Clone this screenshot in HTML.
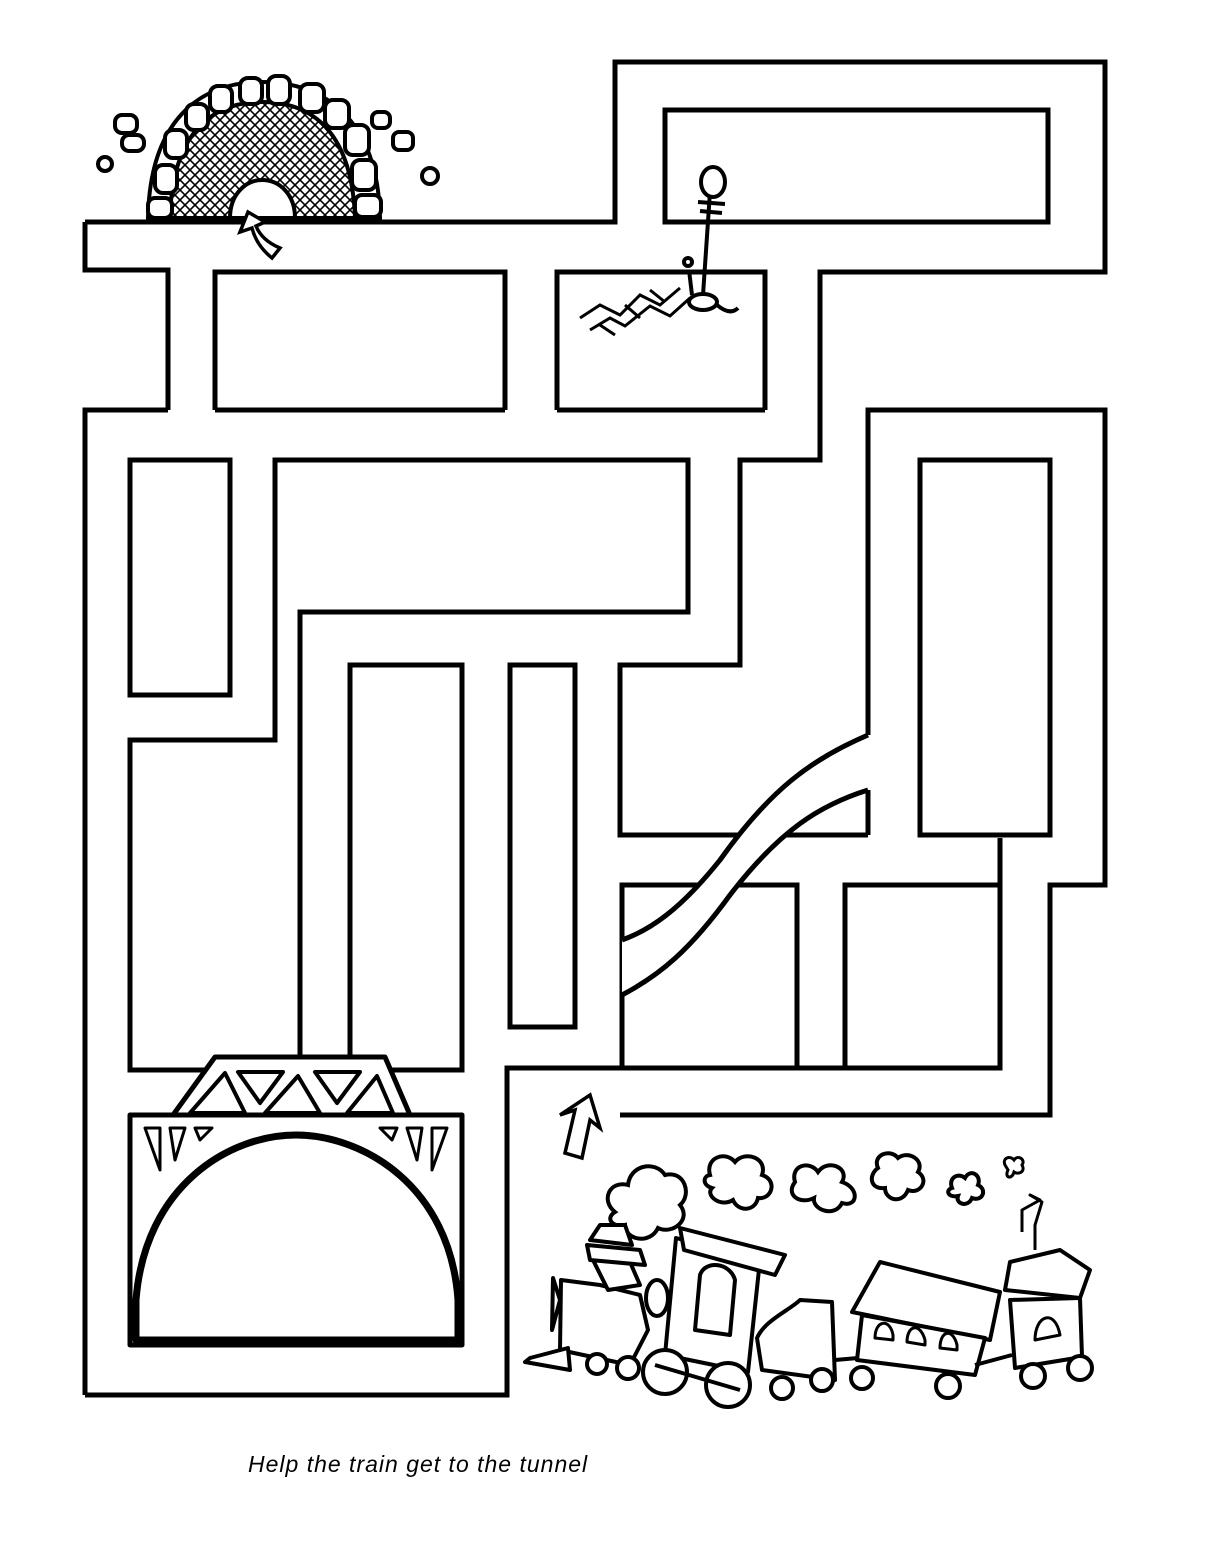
<!DOCTYPE html>
<html><head><meta charset="utf-8"><style>
html,body{margin:0;padding:0;background:#fff}
svg{display:block}
</style></head><body>
<svg width="1216" height="1568" viewBox="0 0 1216 1568" xmlns="http://www.w3.org/2000/svg">
<defs>
<pattern id="hatch" width="10" height="10" patternUnits="userSpaceOnUse">
<path d="M0,0 L10,10 M10,0 L0,10" stroke="#000" stroke-width="1.6"/>
</pattern>
</defs>
<g fill="none" stroke="#000" stroke-width="5" stroke-linejoin="miter">
<polyline points="85,222 615,222 615,62 1105,62 1105,272 820,272 820,460 740,460 740,665 620,665 620,835 868,835"/>
<polyline points="85,222 85,270 168,270 168,410"/>
<rect x="665" y="110" width="383" height="112"/>
<polyline points="215,410 215,272 505,272 505,410"/>
<polyline points="557,410 557,272 765,272 765,410"/>
<polyline points="85,1395 85,410 168,410"/>
<line x1="215" y1="410" x2="505" y2="410"/>
<line x1="557" y1="410" x2="765" y2="410"/>
<rect x="130" y="460" width="100" height="235"/>
<polyline points="205,1070 130,1070 130,740 275,740 275,460 688,460 688,612 300,612 300,1058"/>
<polyline points="350,1058 350,665 462,665 462,1070 392,1070"/>
<rect x="510" y="665" width="65" height="362"/>
<polyline points="85,1395 507,1395 507,1068 1000,1068 1000,838"/>
<polyline points="868,735 868,410 1105,410 1105,885 1050,885 1050,1115 620,1115"/>
<polyline points="868,790 868,835"/>
<rect x="920" y="460" width="130" height="375"/>
<polyline points="622,1068 622,885 797,885 797,1068"/>
<polyline points="845,1068 845,885 1000,885"/>
</g>
<path d="M868,735 C810,760 770,790 720,860 C680,910 650,930 622,940 L622,995 C660,975 690,950 730,895 C780,830 820,805 868,790 Z" fill="#fff" stroke="none"/>
<g fill="none" stroke="#000" stroke-width="5">
<path d="M868,735 C810,760 770,790 720,860 C680,910 650,930 622,940"/>
<path d="M868,790 C820,805 780,830 730,895 C690,950 660,975 622,995"/>
</g>
<g fill="#fff" stroke="#000" stroke-width="5" stroke-linejoin="round">
<polygon points="215,1057 385,1057 410,1115 173,1115"/>
<rect x="130" y="1115" width="332" height="230"/>
<polygon points="190,1113 225,1073 245,1113" stroke-width="4"/>
<polygon points="238,1072 283,1072 260,1103" stroke-width="4"/>
<polygon points="265,1113 298,1076 320,1113" stroke-width="4"/>
<polygon points="315,1072 360,1072 337,1103" stroke-width="4"/>
<polygon points="347,1113 377,1076 393,1113" stroke-width="4"/>
<polygon points="145,1128 160,1128 160,1170" stroke-width="3"/>
<polygon points="170,1128 185,1128 175,1160" stroke-width="3"/>
<polygon points="195,1128 212,1128 200,1140" stroke-width="3"/>
<polygon points="447,1128 432,1128 432,1170" stroke-width="3"/>
<polygon points="422,1128 407,1128 417,1160" stroke-width="3"/>
<polygon points="397,1128 380,1128 392,1140" stroke-width="3"/>
<path d="M136,1300 C145,1185 230,1135 296,1135 C362,1135 450,1185 458,1300 L458,1340 L136,1340 Z" stroke-width="7"/>
</g>
<g stroke="#000" stroke-width="4" fill="#fff">
<path d="M148,218 C150,120 200,82 262,82 C325,82 378,120 380,218 Z"/>
<path d="M170,218 C172,135 210,102 262,102 C315,102 352,135 355,218 Z" fill="url(#hatch)"/>
<path d="M230,218 C230,195 245,180 262,180 C280,180 295,195 295,218 Z"/>
<rect x="240" y="78" width="22" height="26" rx="8"/>
<rect x="268" y="76" width="22" height="28" rx="8"/>
<rect x="210" y="86" width="22" height="26" rx="8"/>
<rect x="186" y="104" width="22" height="26" rx="8"/>
<rect x="165" y="130" width="22" height="28" rx="8"/>
<rect x="155" y="165" width="22" height="28" rx="8"/>
<rect x="148" y="198" width="24" height="20" rx="7"/>
<rect x="300" y="84" width="24" height="28" rx="8"/>
<rect x="325" y="100" width="24" height="28" rx="8"/>
<rect x="345" y="125" width="24" height="30" rx="8"/>
<rect x="352" y="160" width="24" height="30" rx="8"/>
<rect x="355" y="195" width="26" height="22" rx="7"/>
<rect x="115" y="115" width="22" height="18" rx="7"/>
<rect x="122" y="135" width="22" height="16" rx="7"/>
<rect x="372" y="112" width="18" height="16" rx="6"/>
<rect x="393" y="132" width="20" height="18" rx="6"/>
<circle cx="105" cy="164" r="7"/>
<circle cx="430" cy="176" r="8"/>
<path d="M272,258 C262,250 255,240 252,228 L240,232 L248,212 L265,222 L256,226 C260,236 268,243 280,248 Z" stroke-width="3.5"/>
</g>
<g stroke="#000" stroke-width="4" fill="#fff">
<line x1="710" y1="192" x2="703" y2="295"/>
<ellipse cx="713" cy="182" rx="12" ry="15"/>
<path d="M698,202 L725,204 M700,211 L722,213" />
<line x1="689" y1="270" x2="692" y2="295"/>
<circle cx="688" cy="262" r="4"/>
<ellipse cx="703" cy="302" rx="14" ry="8"/>
<path d="M717,305 Q730,316 738,308" fill="none"/>
<path d="M580,318 L600,305 L620,315 L640,295 L660,305 L680,288 M590,330 L610,318 L625,326 L650,306 L670,316 L690,298 M600,325 L615,335 M625,305 L640,318 M650,290 L665,302" fill="none" stroke-width="3"/>
</g>
<path d="M565,1153 L575,1110 L560,1115 L590,1095 L600,1128 L590,1120 L582,1158 Z" fill="#fff" stroke="#000" stroke-width="3.5"/>
<g fill="#fff" stroke="#000" stroke-width="4">
<path d="M615,1212 C600,1200 610,1180 628,1185 C630,1165 655,1160 665,1175 C685,1170 692,1195 680,1205 C692,1220 672,1235 658,1228 C650,1245 625,1240 625,1225 C612,1228 605,1218 615,1212 Z"/>
<path d="M710,1175 C705,1158 725,1150 735,1162 C745,1150 768,1158 762,1175 C778,1180 772,1200 758,1198 C755,1212 738,1212 733,1200 C720,1208 705,1195 712,1188 C702,1185 703,1176 710,1175 Z"/>
<path d="M795,1182 C790,1165 810,1160 818,1172 C828,1158 850,1168 842,1182 C860,1188 858,1208 842,1203 C835,1218 812,1210 814,1198 C800,1205 785,1195 795,1182 Z"/>
<path d="M878,1168 C872,1155 890,1148 898,1158 C908,1150 925,1160 918,1172 C930,1180 920,1195 908,1190 C902,1205 885,1200 885,1188 C870,1190 868,1175 878,1168 Z"/>
<path d="M952,1188 C948,1178 958,1172 965,1178 C970,1168 982,1175 978,1185 C988,1190 982,1202 972,1198 C968,1208 955,1204 958,1196 C948,1198 945,1190 952,1188 Z"/>
<path d="M1005,1165 C1002,1158 1010,1155 1014,1160 C1018,1154 1026,1160 1022,1165 C1026,1172 1018,1175 1014,1172 C1012,1180 1004,1178 1008,1170 Z" stroke-width="3"/>
</g>
<g fill="#fff" stroke="#000" stroke-width="4" stroke-linejoin="round">
<path d="M561,1280 L600,1285 L640,1295 L648,1330 L630,1365 L560,1350 Z"/>
<path d="M560,1300 L553,1278 L552,1330 Z"/>
<path d="M593,1260 L630,1262 L640,1285 L608,1290 Z"/>
<path d="M587,1245 L640,1250 L645,1265 L590,1260 Z"/>
<path d="M590,1240 L600,1225 L625,1225 L632,1245 Z"/>
<ellipse cx="657" cy="1298" rx="11" ry="18"/>
<path d="M676,1238 L760,1260 L748,1372 L665,1355 Z"/>
<path d="M680,1228 L785,1255 L775,1275 L684,1250 Z"/>
<path d="M695,1330 L700,1275 C705,1260 730,1262 735,1280 L730,1335 Z"/>
<path d="M530,1358 L568,1348 L570,1370 L525,1362 Z"/>
<circle cx="597" cy="1364" r="10"/>
<circle cx="628" cy="1368" r="11"/>
<circle cx="665" cy="1372" r="22"/>
<circle cx="728" cy="1385" r="22"/>
<line x1="655" y1="1365" x2="740" y2="1390"/>
<path d="M757,1338 C765,1320 790,1310 800,1300 L832,1302 L835,1380 L762,1370 Z"/>
<path d="M852,1312 L880,1262 L1000,1292 L990,1340 Z"/>
<path d="M862,1315 L985,1338 L975,1375 L857,1360 Z"/>
<path d="M875,1338 C875,1320 890,1318 893,1335 L893,1340 Z" stroke-width="3"/>
<path d="M907,1342 C907,1325 920,1322 925,1340 L925,1345 Z" stroke-width="3"/>
<path d="M940,1348 C940,1330 953,1328 957,1345 L957,1350 Z" stroke-width="3"/>
<path d="M1005,1290 L1010,1262 L1060,1250 L1090,1270 L1080,1298 Z"/>
<path d="M1010,1300 L1080,1298 L1082,1357 L1015,1368 Z"/>
<path d="M1035,1340 C1035,1315 1055,1308 1060,1335 Z" stroke-width="3"/>
<path d="M1022,1232 L1022,1210 L1040,1200 L1030,1195 L1042,1202 L1035,1225 L1035,1250" fill="none" stroke-width="3"/>
<line x1="835" y1="1360" x2="858" y2="1358"/>
<line x1="975" y1="1365" x2="1012" y2="1355"/>
<circle cx="782" cy="1388" r="11"/>
<circle cx="822" cy="1380" r="11"/>
<circle cx="862" cy="1378" r="11"/>
<circle cx="948" cy="1386" r="12"/>
<circle cx="1033" cy="1376" r="12"/>
<circle cx="1080" cy="1368" r="12"/>
</g>
<text x="248" y="1472" font-family="Liberation Sans, sans-serif" font-style="italic" font-size="23" letter-spacing="1" fill="#000">Help the train get to the tunnel</text>
</svg>
</body></html>
